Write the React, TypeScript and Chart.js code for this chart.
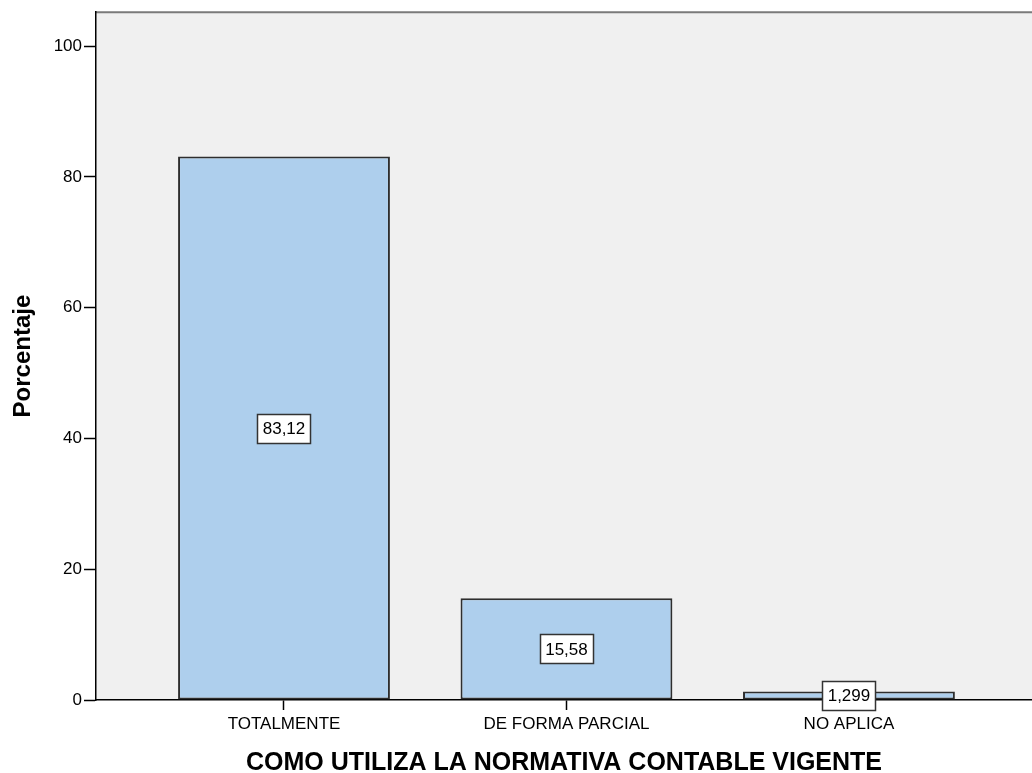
import React, { useEffect, useRef } from 'react';
import { Chart, registerables } from 'chart.js';

Chart.register(...registerables);

const categories = ['TOTALMENTE', 'DE FORMA PARCIAL', 'NO APLICA'];
const percentages = [83.12, 15.58, 1.299];
const yTicks = [0, 20, 40, 60, 80, 100];
const xTitle = 'COMO UTILIZA LA NORMATIVA CONTABLE VIGENTE';
const yTitle = 'Porcentaje';

const FONT = "'Liberation Sans', Arial, Helvetica, sans-serif";

export default function App() {
  const ref = useRef<HTMLCanvasElement>(null);

  useEffect(() => {
    if (!ref.current) return;

    const plotBg = {
      id: 'plotBg',
      beforeDraw(chart: any) {
        const { ctx, chartArea: a } = chart;
        ctx.save();
        ctx.fillStyle = '#F0F0F0';
        ctx.fillRect(a.left, a.top, a.right - a.left, a.bottom - a.top);
        ctx.strokeStyle = '#7a7a7a';
        ctx.lineWidth = 2;
        ctx.beginPath();
        ctx.moveTo(a.left, a.top);
        ctx.lineTo(a.right, a.top);
        ctx.stroke();
        ctx.restore();
      },
    };

    const valueBoxes = {
      id: 'valueBoxes',
      afterDraw(chart: any) {
        const meta = chart.getDatasetMeta(0);
        const ctx = chart.ctx;
        ctx.save();
        ctx.font = `17px ${FONT}`;
        meta.data.forEach((bar: any, i: number) => {
          const { x, y, base } = bar.getProps(['x', 'y', 'base'], true);
          const cy = (y + base) / 2;
          const text = String(percentages[i]).replace('.', ',');
          const w = Math.round(ctx.measureText(text).width + 10);
          const h = 29;
          const bx = Math.round(x - w / 2) + 0.5;
          const by = Math.round(cy - h / 2) + 0.5;
          ctx.fillStyle = '#ffffff';
          ctx.fillRect(bx, by, w, h);
          ctx.strokeStyle = '#333333';
          ctx.lineWidth = 1.5;
          ctx.strokeRect(bx, by, w, h);
          ctx.fillStyle = '#000000';
          ctx.textAlign = 'center';
          ctx.textBaseline = 'middle';
          ctx.fillText(text, x, cy + 1);
        });
        ctx.restore();
      },
    };

    const chart = new Chart(ref.current, {
      type: 'bar',
      data: {
        datasets: [
          {
            data: percentages.map((v, i) => ({ x: i, y: v })),
            backgroundColor: 'rgb(174,207,237)',
            borderColor: '#2e2e2e',
            borderWidth: 2,
            borderSkipped: false,
            barPercentage: 0.75,
            categoryPercentage: 1,
          } as any,
        ],
      },
      options: {
        animation: false,
        responsive: false,
        devicePixelRatio: 1,
        layout: { padding: { top: 11, right: 0, bottom: 0, left: 0 } },
        plugins: {
          legend: { display: false },
          tooltip: { enabled: false },
        },
        scales: {
          x: {
            type: 'linear',
            offset: false,
            min: -0.6655,
            max: 2.648,
            afterBuildTicks: (s: any) => {
              s.ticks = categories.map((_, i) => ({ value: i }));
            },
            afterFit: (s: any) => {
              s.height = 73;
            },
            ticks: {
              callback: (v: any) => categories[v] ?? '',
              font: { family: FONT, size: 17 },
              color: '#000',
              padding: 4,
              autoSkip: false,
              maxRotation: 0,
            },
            grid: {
              display: true,
              offset: false,
              drawOnChartArea: false,
              drawTicks: true,
              tickLength: 10,
              tickColor: '#000',
              tickWidth: 1.5,
            },
            border: { display: true, color: '#000', width: 1.5 },
            title: {
              display: true,
              text: xTitle,
              color: '#000',
              font: { family: FONT, size: 25, weight: 'bold', lineHeight: 0.8 },
              padding: { top: 0, bottom: 0 },
            },
          },
          y: {
            type: 'linear',
            min: 0,
            max: 105.2,
            afterBuildTicks: (s: any) => {
              s.ticks = yTicks.map((v) => ({ value: v }));
            },
            afterFit: (s: any) => {
              s.width = 96;
            },
            ticks: {
              font: { family: FONT, size: 17 },
              color: '#000',
              padding: 2,
            },
            grid: {
              display: true,
              drawOnChartArea: false,
              drawTicks: true,
              tickLength: 12,
              tickColor: '#000',
              tickWidth: 1.5,
            },
            border: { display: true, color: '#000', width: 1.5 },
            title: {
              display: true,
              text: yTitle,
              color: '#000',
              font: { family: FONT, size: 24, weight: 'bold', lineHeight: 1.2 },
              padding: { top: 9, bottom: 0 },
            },
          },
        },
      } as any,
      plugins: [plotBg, valueBoxes],
    });

    return () => chart.destroy();
  }, []);

  return (
    <div style={{ position: 'absolute', left: 0, top: 0, width: 1032, height: 773, background: '#fff' }}>
      <canvas ref={ref} width={1032} height={773} style={{ display: 'block' }} />
    </div>
  );
}
